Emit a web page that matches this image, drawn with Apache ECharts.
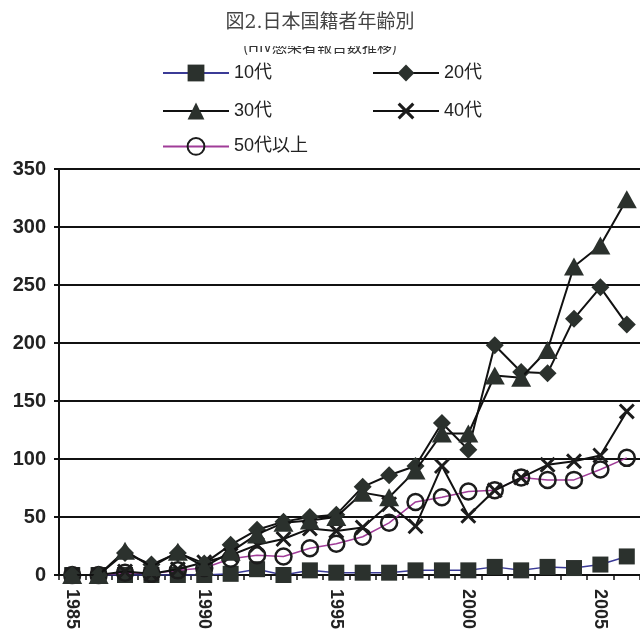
<!DOCTYPE html>
<html>
<head>
<meta charset="utf-8">
<script src="https://cdn.jsdelivr.net/npm/echarts@6/dist/echarts.min.js"></script>
<style>
  html, body { margin: 0; padding: 0; background: #ffffff; }
  #chart { width: 640px; height: 638px; }
</style>
</head>
<body>
<div id="chart"></div>
<script>
// Reported cases by age group, Japanese nationals, 1985-2006
const years = ['1985','1986','1987','1988','1989','1990','1991','1992','1993','1994','1995',
               '1996','1997','1998','1999','2000','2001','2002','2003','2004','2005','2006'];
const teens    = [0, 0, 0, 0, 0, 0, 1, 5, 0, 4, 2, 2, 2, 4, 4, 4, 7, 4, 7, 6, 9, 16];
const twenties = [0, 0, 19, 9, 19, 10, 26, 39, 46, 50, 52, 76, 86, 94, 131, 108, 198, 175, 174, 221, 248, 216];
const thirties = [0, 0, 21, 7, 20, 7, 20, 35, 45, 47, 50, 71, 67, 90, 122, 122, 172, 170, 194, 266, 284, 324];
const forties  = [0, 0, 3, 1, 5, 11, 17, 26, 31, 40, 38, 41, 61, 42, 94, 51, 73, 84, 95, 98, 103, 141];
const fiftyUp  = [0, 0, 2, 1, 4, 6, 14, 17, 16, 23, 27, 33, 45, 63, 67, 72, 73, 84, 82, 82, 91, 101];
const yTicks = { min: 0, max: 350, step: 50 };

const markFill = '#2b312d';
const crossPath = 'path://M0,1.3L1.3,0L5,3.7L8.7,0L10,1.3L6.3,5L10,8.7L8.7,10L5,6.3L1.3,10L0,8.7L3.7,5Z';

const chart = echarts.init(document.getElementById('chart'), null, { renderer: 'canvas' });

const legendBase = {
  itemWidth: 66,
  itemHeight: 21,
  itemGap: 0,
  padding: 0,
  textStyle: { fontFamily: 'Liberation Sans, Arial, Noto Sans CJK JP', fontSize: 18, color: '#222' }
};

chart.setOption({
  backgroundColor: '#ffffff',
  animation: false,
  title: {
    text: '図2.日本国籍者年齢別',
    left: 'center',
    top: 9,
    textStyle: { fontFamily: 'DejaVu Serif, Noto Sans CJK JP', fontSize: 19, fontWeight: 'normal', color: '#444' }
  },
  graphic: [
    {
      type: 'text', left: 'center', top: 39, z: 10,
      style: { text: '(HIV感染者報告数推移)', fontFamily: 'Noto Sans CJK JP', fontSize: 15, fill: '#333' }
    },
    {
      type: 'rect', left: 190, top: 30, z: 11,
      shape: { width: 260, height: 16 },
      style: { fill: '#ffffff' }
    }
  ],
  legend: [
    Object.assign({ data: ['10代'], left: 162, top: 64 }, legendBase),
    Object.assign({ data: ['20代'], left: 372, top: 64 }, legendBase),
    Object.assign({ data: ['30代'], left: 162, top: 102 }, legendBase),
    Object.assign({ data: ['40代'], left: 372, top: 102 }, legendBase),
    Object.assign({ data: ['50代以上'], left: 162, top: 137 }, legendBase)
  ],
  grid: { left: 59, right: -2, top: 169, bottom: 63, containLabel: false },
  xAxis: {
    type: 'category',
    data: years,
    boundaryGap: true,
    axisLine: { show: true, lineStyle: { color: '#111', width: 2 } },
    axisTick: { show: true, interval: 0, length: 5, lineStyle: { color: '#111', width: 1.5 } },
    axisLabel: {
      interval: 4, rotate: -90, margin: 14,
      fontFamily: 'Liberation Sans, Arial', fontSize: 18, fontWeight: 'bold', color: '#222'
    },
    splitLine: { show: false }
  },
  yAxis: {
    type: 'value',
    min: yTicks.min, max: yTicks.max, interval: yTicks.step,
    axisLine: { show: true, lineStyle: { color: '#111', width: 2 } },
    axisTick: { show: true, length: 5, lineStyle: { color: '#111', width: 2 } },
    axisLabel: { margin: 13, fontFamily: 'Liberation Sans, Arial', fontSize: 20, fontWeight: 'bold', color: '#222' },
    splitLine: { show: true, lineStyle: { color: '#111', width: 2 } }
  },
  series: [
    {
      name: '10代', type: 'line', data: teens, z: 2,
      symbol: 'rect', symbolSize: 16, showAllSymbol: true,
      lineStyle: { color: '#3b3b96', width: 1.5 },
      itemStyle: { color: markFill, borderColor: markFill, borderWidth: 0 }
    },
    {
      name: '50代以上', type: 'line', data: fiftyUp, z: 3,
      symbol: 'circle', symbolSize: 16, showAllSymbol: true,
      lineStyle: { color: '#a03c98', width: 1.5 },
      itemStyle: { color: 'rgba(255,255,255,0)', borderColor: '#1c1c1c', borderWidth: 2.5 }
    },
    {
      name: '40代', type: 'line', data: forties, z: 4,
      symbol: crossPath, symbolSize: 16, showAllSymbol: true,
      lineStyle: { color: '#111', width: 2 },
      itemStyle: { color: '#1c1c1c', borderWidth: 0 }
    },
    {
      name: '20代', type: 'line', data: twenties, z: 5,
      symbol: 'diamond', symbolSize: 18, showAllSymbol: true,
      lineStyle: { color: '#111', width: 2 },
      itemStyle: { color: markFill, borderWidth: 0 }
    },
    {
      name: '30代', type: 'line', data: thirties, z: 6,
      symbol: 'triangle', symbolSize: [20, 18], showAllSymbol: true,
      lineStyle: { color: '#111', width: 2 },
      itemStyle: { color: markFill, borderWidth: 0 }
    }
  ]
});
</script>
</body>
</html>
